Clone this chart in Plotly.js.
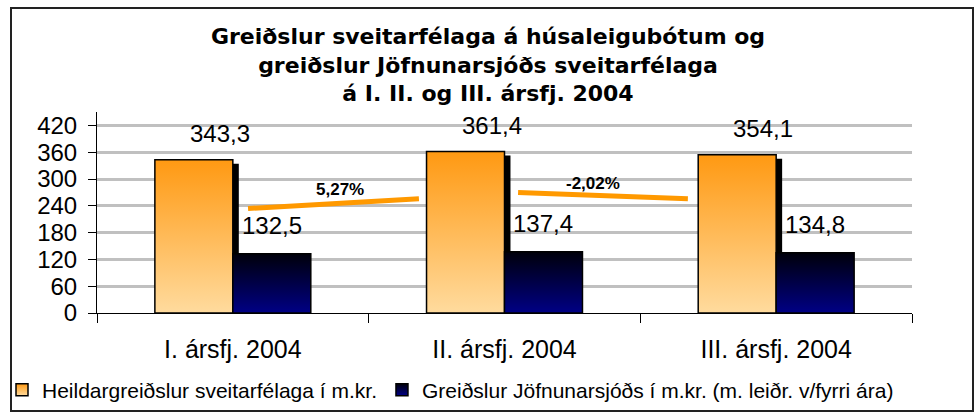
<!DOCTYPE html>
<html>
<head>
<meta charset="utf-8">
<script src="https://cdn.plot.ly/plotly-3.0.1.min.js"></script>
<style>
  html, body { margin: 0; padding: 0; background: #ffffff; }
  #chart { width: 976px; height: 418px; }
</style>
</head>
<body>
<div id="chart"></div>
<script>
// ---- data ----
const categories = ['I. ársfj. 2004', 'II. ársfj. 2004', 'III. ársfj. 2004'];
const seriesNames = ['Heildargreiðslur sveitarfélaga í m.kr.', 'Greiðslur Jöfnunarsjóðs í m.kr. (m. leiðr. v/fyrri ára)'];
const heildar = [343.3, 361.4, 354.1];
const jofnun = [132.5, 137.4, 134.8];
const yTicks = [0, 60, 120, 180, 240, 300, 360, 420];
const titleLines = ['Greiðslur sveitarfélaga á húsaleigubótum og', 'greiðslur Jöfnunarsjóðs sveitarfélaga', 'á I. II. og III. ársfj. 2004'];

// ---- helpers ----
const fmt = v => v.toFixed(1).replace('.', ',');
const pct = (a, b) => ((b / a - 1) * 100).toFixed(2).replace('.', ',') + '%';
const FONT = 'Arial, "Liberation Sans", sans-serif';

// plot-area pixel geometry (for paper conversions)
const PL = 97, PR = 912, PT = 112, PB = 313;
const PW = PR - PL, PH = PB - PT;
const px2paperX = px => (px - PL) / PW;
const px2paperY = py => (PB - py) / PH;

const BW = 0.287;          // bar width (category units)
const SH_X = 0.022;        // shadow offset right
const SH_Y = 9;            // shadow offset down (y units)

const traces = [
  { // shadow behind orange bars
    type: 'bar', x: categories, y: heildar, base: heildar.map(() => -SH_Y),
    offset: -BW + SH_X, width: BW, marker: { color: '#000000', line: { width: 0 } },
    showlegend: false, hoverinfo: 'skip'
  },
  {
    type: 'bar', name: seriesNames[0], x: categories, y: heildar,
    offset: -BW, width: BW,
    marker: { color: '#ffb24d', line: { color: '#000000', width: 1.5 } }
  },
  {
    type: 'bar', name: seriesNames[1], x: categories, y: jofnun,
    offset: 0, width: BW,
    marker: { color: '#000060', line: { color: '#000000', width: 1.5 } }
  }
];

const annotations = [];
categories.forEach((c, i) => {
  annotations.push({
    x: i - BW / 2, y: heildar[i], xref: 'x', yref: 'y', text: fmt(heildar[i]),
    showarrow: false, xanchor: 'center', yanchor: 'middle', xshift: 26, yshift: 26,
    font: { family: FONT, size: 24, color: '#000000' }
  });
  annotations.push({
    x: i + BW / 2, y: jofnun[i], xref: 'x', yref: 'y', text: fmt(jofnun[i]),
    showarrow: false, xanchor: 'center', yanchor: 'middle', xshift: 0, yshift: 28,
    font: { family: FONT, size: 24, color: '#000000' }
  });
});
// growth labels between quarters
const growthPos = [{ x: 0.394, y: 276 }, { x: 1.326, y: 289.5 }];
growthPos.forEach((p, i) => {
  annotations.push({
    x: p.x, y: p.y, xref: 'x', yref: 'y', text: '<b>' + pct(heildar[i], heildar[i + 1]) + '</b>',
    showarrow: false, xanchor: 'center', yanchor: 'middle',
    font: { family: FONT, size: 17, color: '#000000' }
  });
});

const shapes = [
  { type: 'line', xref: 'x', yref: 'y', x0: 0.056, y0: 234, x1: 0.685, y1: 256,
    line: { color: '#ff9900', width: 5 } },
  { type: 'line', xref: 'x', yref: 'y', x0: 1.05, y0: 270, x1: 1.675, y1: 256,
    line: { color: '#ff9900', width: 5 } },
  // outer chart frame
  { type: 'rect', xref: 'paper', yref: 'paper', x0: px2paperX(11), x1: px2paperX(973),
    y0: px2paperY(411), y1: px2paperY(8), line: { color: '#222222', width: 2 }, layer: 'below' }
];

const layout = {
  width: 976, height: 418,
  margin: { l: PL, r: 976 - PR, t: PT, b: 418 - PB, autoexpand: false },
  paper_bgcolor: '#ffffff', plot_bgcolor: '#ffffff',
  barmode: 'overlay',
  title: {
    text: '<b>' + titleLines.join('<br>') + '</b>',
    x: 0.5, xref: 'container', xanchor: 'center',
    y: 1 - 44 / 418, yref: 'container', yanchor: 'top',
    font: { family: 'Verdana, "DejaVu Sans", sans-serif', size: 22, color: '#000000' }
  },
  xaxis: {
    type: 'category', range: [-0.5, 2.5], tickson: 'boundaries',
    ticks: 'outside', ticklen: 9, tickcolor: '#000000', tickwidth: 1,
    showline: true, linecolor: '#000000', linewidth: 1,
    showgrid: false, zeroline: false, automargin: false,
    tickfont: { family: FONT, size: 25, color: '#000000' }, ticklabelstandoff: 14
  },
  xaxis2: {
    overlaying: 'x', anchor: 'y', side: 'bottom', range: [-0.5, 2.5],
    tickvals: [-0.5, 0.5, 1.5, 2.5], ticks: 'inside', ticklen: 8, tickcolor: '#000000',
    showticklabels: false, showgrid: false, zeroline: false, showline: false
  },
  yaxis: {
    range: [0, 450], tickvals: yTicks, ticktext: yTicks.map(String),
    ticks: 'outside', ticklen: 8, tickcolor: '#000000', tickwidth: 1,
    showline: true, linecolor: '#000000', linewidth: 1,
    showgrid: true, gridcolor: '#c0c0c0', gridwidth: 3, zeroline: false, automargin: false,
    tickfont: { family: FONT, size: 24, color: '#000000' }, ticklabelstandoff: 6
  },
  yaxis2: {
    overlaying: 'y', anchor: 'x', side: 'left', range: [0, 450], tickvals: yTicks,
    ticks: 'inside', ticklen: 8, tickcolor: '#000000',
    showticklabels: false, showgrid: false, zeroline: false, showline: false
  },
  legend: {
    orientation: 'h', xref: 'paper', yref: 'paper',
    x: px2paperX(2), xanchor: 'left', y: px2paperY(390), yanchor: 'middle',
    font: { family: FONT, size: 21, color: '#000000' },
    itemwidth: 30, tracegroupgap: 0, bgcolor: 'rgba(0,0,0,0)'
  },
  annotations: annotations,
  shapes: shapes,
  showlegend: true
};

function addGradients() {
  const NS = 'http://www.w3.org/2000/svg';
  const svg = document.querySelector('#chart .main-svg');
  let defs = svg.querySelector('defs');
  if (!defs) { defs = document.createElementNS(NS, 'defs'); svg.insertBefore(defs, svg.firstChild); }
  const mk = (id, top, bottom) => {
    if (document.getElementById(id)) return;
    const g = document.createElementNS(NS, 'linearGradient');
    g.setAttribute('id', id); g.setAttribute('x1', '0'); g.setAttribute('y1', '0');
    g.setAttribute('x2', '0'); g.setAttribute('y2', '1');
    [[0, top], [1, bottom]].forEach(([o, c]) => {
      const s = document.createElementNS(NS, 'stop');
      s.setAttribute('offset', o); s.setAttribute('stop-color', c);
      g.appendChild(s);
    });
    defs.appendChild(g);
  };
  mk('gOrange', '#ff9912', '#ffdb9e');
  mk('gNavy', '#00000a', '#000085');
  const barTraces = document.querySelectorAll('#chart .barlayer .trace');
  if (barTraces[1]) barTraces[1].querySelectorAll('path').forEach(p => p.style.fill = 'url(#gOrange)');
  if (barTraces[2]) barTraces[2].querySelectorAll('path').forEach(p => p.style.fill = 'url(#gNavy)');
  const legTraces = document.querySelectorAll('#chart .legend .traces');
  if (legTraces[0]) legTraces[0].querySelectorAll('.legendpoints path').forEach(p => p.style.fill = 'url(#gOrange)');
  if (legTraces[1]) legTraces[1].querySelectorAll('.legendpoints path').forEach(p => p.style.fill = 'url(#gNavy)');
}

Plotly.newPlot('chart', traces, layout, { displayModeBar: false, staticPlot: true }).then(addGradients);
</script>
</body>
</html>
